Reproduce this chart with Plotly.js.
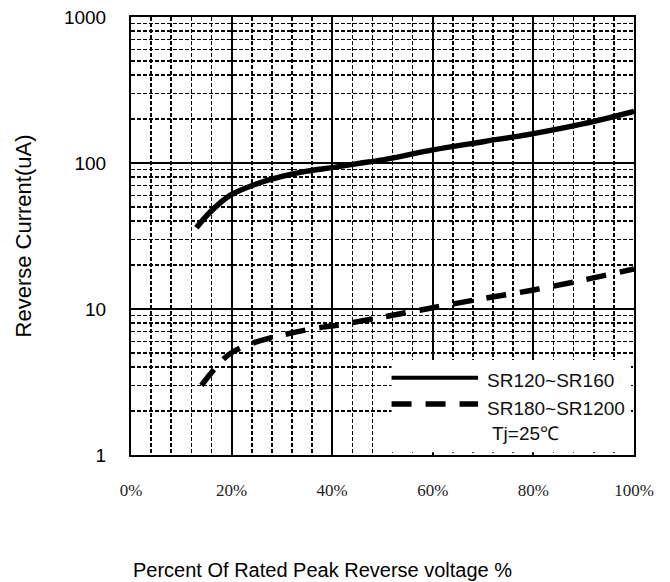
<!DOCTYPE html>
<html><head><meta charset="utf-8">
<script src="https://cdn.plot.ly/plotly-3.0.1.min.js"></script>
<style>body{margin:0;background:#fff}#c{width:670px;height:582px}</style>
</head><body><div id="c"></div>
<script>
const solidX = [13, 15.7, 19.7, 25, 30, 35, 40, 45, 50, 60, 70, 80, 90, 100];
const solidY = [36, 46, 60, 72, 81, 88, 93, 99, 105, 123, 140, 159, 186, 226];
const dashX = [14, 19.3, 24, 28.2, 35.9, 41.5, 50, 60, 70, 80, 90, 100];
const dashY = [3.0, 4.83, 5.8, 6.4, 7.3, 7.8, 8.8, 10.2, 11.8, 13.5, 15.8, 18.8];
const xTickVals = [0, 20, 40, 60, 80, 100];
const xTickText = ['0%', '20%', '40%', '60%', '80%', '100%'];
const yTickVals = [1, 10, 100, 1000];
const yTickText = ['1', '10', '100', '1000'];
const yMinorVals = [];
[1, 10, 100].forEach(d => { for (let k = 2; k <= 9; k++) yMinorVals.push(d * k); });
const xMinorVals = [];
for (let v = 4; v < 100; v += 4) if (v % 20 !== 0) xMinorVals.push(v);
const legendNames = ['SR120~SR160', 'SR180~SR1200'];
const noteText = 'Tj=25℃';
const xTitle = 'Percent Of Rated Peak Reverse voltage %';
const yTitle = 'Reverse Current(uA)';

const traces = [
  {x: solidX, y: solidY, mode: 'lines', line: {color: '#000', width: 5.5, shape: 'spline'}, name: legendNames[0], hoverinfo: 'skip'},
  {x: dashX, y: dashY, mode: 'lines', line: {color: '#000', width: 5.5, dash: '20px,14px', shape: 'spline'}, name: legendNames[1], hoverinfo: 'skip'}
];

const layout = {
  width: 670, height: 582,
  margin: {l: 131, r: 36, t: 17, b: 127},
  paper_bgcolor: '#fff', plot_bgcolor: '#fff',
  showlegend: false,
  xaxis: {
    range: [0, 100], tickvals: xTickVals, ticktext: xTickText,
    showgrid: true, gridcolor: '#000', gridwidth: 2,
    showline: true, linecolor: '#000', linewidth: 2, mirror: true,
    ticks: '', ticklabelstandoff: 19, zeroline: false,
    tickfont: {family: 'Liberation Serif', size: 17, color: '#222'},
    minor: {tickvals: xMinorVals, showgrid: true, gridcolor: '#000', gridwidth: 1.6, griddash: '4px,2px', ticks: ''}
  },
  yaxis: {
    type: 'log', range: [0, 3], tickvals: yTickVals, ticktext: yTickText,
    showgrid: true, gridcolor: '#000', gridwidth: 1.5,
    showline: true, linecolor: '#000', linewidth: 2, mirror: true,
    ticks: '', ticklabelstandoff: 19, zeroline: false,
    tickfont: {family: 'Liberation Sans', size: 19, color: '#000'},
    minor: {tickvals: yMinorVals, showgrid: true, gridcolor: '#000', gridwidth: 1.6, griddash: '4px,2px', ticks: ''},
    title: {text: yTitle, font: {family: 'Liberation Sans', size: 22, color: '#000'}, standoff: 26}
  },
  shapes: [
    {type: 'rect', xref: 'paper', yref: 'paper', x0: 0.518, x1: 0.994, y0: 0.006, y1: 0.217, fillcolor: '#fff', line: {width: 0}, layer: 'above'},
    {type: 'line', xref: 'paper', yref: 'paper', x0: 0.518, x1: 0.69, y0: 0.1765, y1: 0.1765, line: {color: '#000', width: 4}, layer: 'above'},
    {type: 'line', xref: 'paper', yref: 'paper', x0: 0.518, x1: 0.69, y0: 0.1164, y1: 0.1164, line: {color: '#000', width: 5.5, dash: '20px,14px'}, layer: 'above'}
  ],
  annotations: [
    {xref: 'paper', yref: 'paper', x: 0.703, y: 0.170, xanchor: 'left', yanchor: 'middle', text: legendNames[0], showarrow: false, font: {family: 'Liberation Sans', size: 19, color: '#111'}},
    {xref: 'paper', yref: 'paper', x: 0.703, y: 0.107, xanchor: 'left', yanchor: 'middle', text: legendNames[1], showarrow: false, font: {family: 'Liberation Sans', size: 19, color: '#111'}},
    {xref: 'paper', yref: 'paper', x: 0.714, y: 0.048, xanchor: 'left', yanchor: 'middle', text: noteText, showarrow: false, font: {family: 'Liberation Sans', size: 19, color: '#111'}},
    {xref: 'paper', yref: 'paper', x: 0.381, y: -0.2626, xanchor: 'center', yanchor: 'middle', text: xTitle, showarrow: false, font: {family: 'Liberation Sans', size: 20, color: '#000'}}
  ]
};
Plotly.newPlot('c', traces, layout, {staticPlot: true, displayModeBar: false});
</script>
</body></html>
